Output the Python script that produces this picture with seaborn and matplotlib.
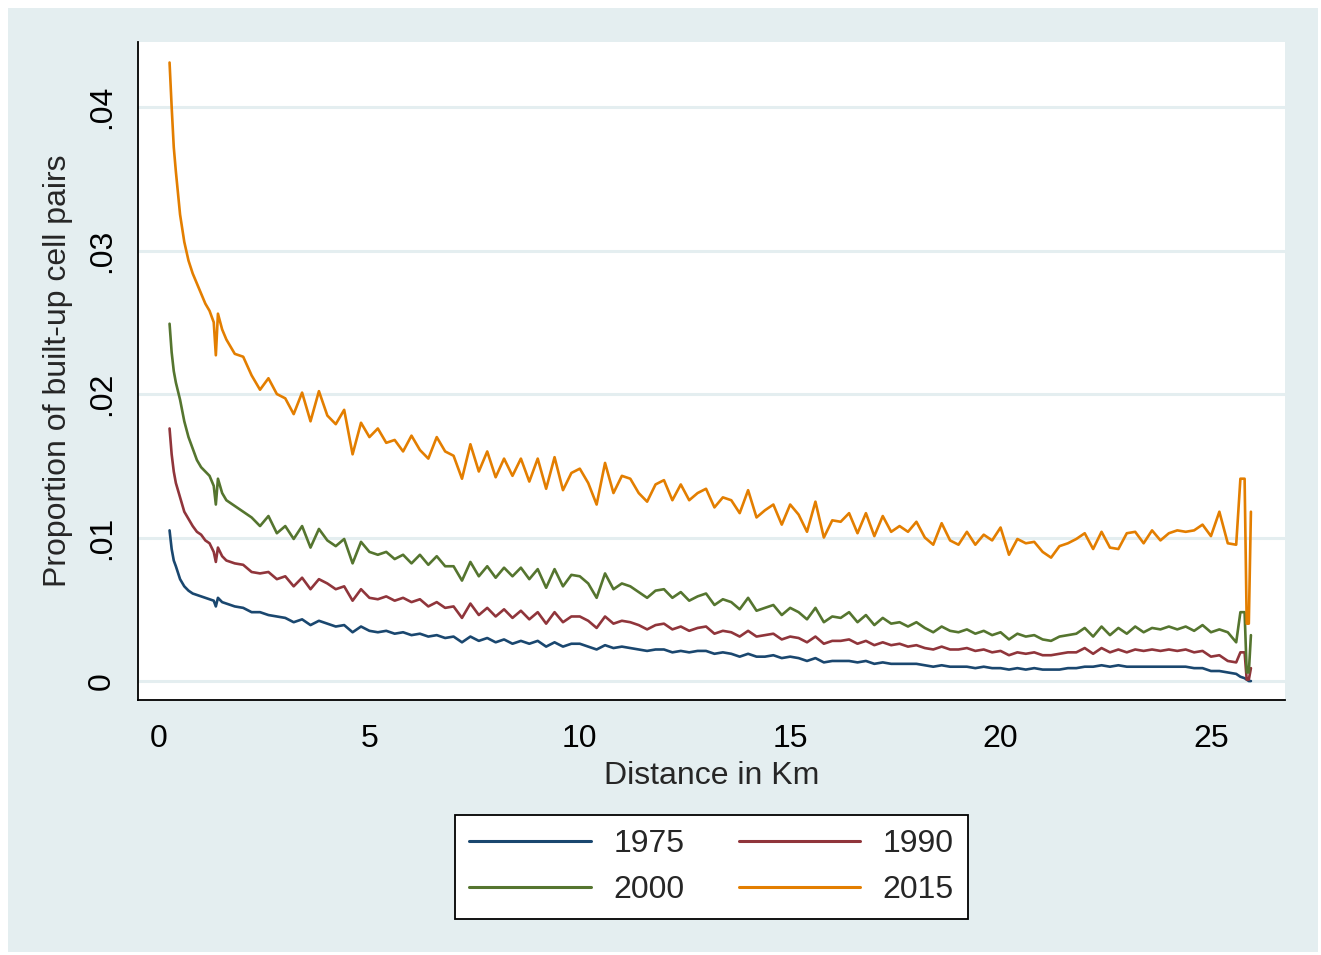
import numpy as np
import pandas as pd
import matplotlib
matplotlib.use('Agg')
import matplotlib.pyplot as plt
from matplotlib.patches import Rectangle
from matplotlib.lines import Line2D
import seaborn as sns

sns.set_style('white')
plt.rcParams['font.family'] = ['Liberation Sans', 'DejaVu Sans']

# distance grid (km)
distance_km = [0.25, 0.3, 0.35, 0.4, 0.5, 0.6, 0.7, 0.8, 0.9, 1.0, 1.1, 1.2, 1.3, 1.35, 1.4, 1.5,
               1.6, 1.8, 2.0, 2.2, 2.4, 2.6, 2.8, 3.0, 3.2, 3.4, 3.6, 3.8, 4.0, 4.2, 4.4, 4.6, 4.8,
               5.0, 5.2, 5.4, 5.6, 5.8, 6.0, 6.2, 6.4, 6.6, 6.8, 7.0, 7.2, 7.4, 7.6, 7.8,
               8.0, 8.2, 8.4, 8.6, 8.8, 9.0, 9.2, 9.4, 9.6, 9.8, 10.0, 10.2, 10.4, 10.6, 10.8,
               11.0, 11.2, 11.4, 11.6, 11.8, 12.0, 12.2, 12.4, 12.6, 12.8, 13.0, 13.2, 13.4, 13.6, 13.8,
               14.0, 14.2, 14.4, 14.6, 14.8, 15.0, 15.2, 15.4, 15.6, 15.8, 16.0, 16.2, 16.4, 16.6, 16.8,
               17.0, 17.2, 17.4, 17.6, 17.8, 18.0, 18.2, 18.4, 18.6, 18.8, 19.0, 19.2, 19.4, 19.6, 19.8,
               20.0, 20.2, 20.4, 20.6, 20.8, 21.0, 21.2, 21.4, 21.6, 21.8, 22.0, 22.2, 22.4, 22.6, 22.8,
               23.0, 23.2, 23.4, 23.6, 23.8, 24.0, 24.2, 24.4, 24.6, 24.8, 25.0, 25.2, 25.4, 25.6,
               25.7, 25.8, 25.85, 25.9, 25.95]

# proportions, in units of 1e-4
prop_1975 = [105, 92, 84, 80, 71, 66, 63, 61, 60, 59, 58, 57, 56, 52, 58, 55,
             54, 52, 51, 48, 48, 46, 45, 44, 41, 43, 39, 42, 40, 38, 39, 34, 38,
             35, 34, 35, 33, 34, 32, 33, 31, 32, 30, 31, 27, 31, 28, 30,
             27, 29, 26, 28, 26, 28, 24, 27, 24, 26, 26, 24, 22, 25, 23,
             24, 23, 22, 21, 22, 22, 20, 21, 20, 21, 21, 19, 20, 19, 17,
             19, 17, 17, 18, 16, 17, 16, 14, 16, 13, 14, 14, 14, 13, 14,
             12, 13, 12, 12, 12, 12, 11, 10, 11, 10, 10, 10, 9, 10, 9,
             9, 8, 9, 8, 9, 8, 8, 8, 9, 9, 10, 10, 11, 10, 11,
             10, 10, 10, 10, 10, 10, 10, 10, 9, 9, 7, 7, 6, 5,
             3, 2, 1, 0, 0]

prop_1990 = [176, 158, 146, 138, 128, 118, 113, 108, 104, 102, 98, 96, 90, 83, 93, 87,
             84, 82, 81, 76, 75, 76, 71, 73, 66, 72, 64, 71, 68, 64, 66, 56, 64,
             58, 57, 59, 56, 58, 55, 57, 52, 55, 51, 52, 44, 54, 46, 51,
             45, 50, 44, 49, 43, 48, 40, 48, 41, 45, 45, 42, 37, 45, 40,
             42, 41, 39, 36, 39, 40, 36, 38, 35, 37, 38, 33, 35, 34, 31,
             35, 31, 32, 33, 29, 31, 30, 27, 31, 26, 28, 28, 29, 26, 28,
             25, 27, 25, 26, 24, 25, 23, 22, 24, 22, 22, 23, 21, 22, 20,
             21, 18, 20, 19, 20, 18, 18, 19, 20, 20, 23, 19, 23, 20, 22,
             20, 22, 21, 22, 21, 22, 21, 22, 20, 21, 17, 18, 14, 13,
             20, 20, 1, 1, 9]

prop_2000 = [249, 229, 216, 208, 196, 181, 170, 162, 154, 149, 146, 143, 136, 123, 141, 131,
             126, 122, 118, 114, 108, 115, 103, 108, 99, 108, 93, 106, 98, 94, 99, 82, 97,
             90, 88, 90, 85, 88, 82, 88, 81, 87, 80, 80, 70, 83, 73, 80,
             72, 79, 73, 79, 71, 78, 65, 78, 66, 74, 73, 68, 58, 75, 64,
             68, 66, 62, 58, 63, 64, 58, 62, 56, 59, 61, 53, 57, 55, 50,
             58, 49, 51, 53, 46, 51, 48, 43, 51, 41, 45, 44, 48, 41, 46,
             39, 44, 40, 41, 38, 41, 37, 34, 38, 35, 34, 36, 33, 35, 32,
             34, 29, 33, 31, 32, 29, 28, 31, 32, 33, 37, 31, 38, 32, 37,
             33, 38, 34, 37, 36, 38, 36, 38, 35, 39, 34, 36, 34, 27,
             48, 48, 6, 6, 32]

prop_2015 = [431, 400, 372, 355, 325, 306, 293, 284, 277, 270, 263, 258, 250, 227, 256, 245,
             238, 228, 226, 213, 203, 211, 200, 197, 186, 201, 181, 202, 185, 179, 189, 158, 180,
             170, 176, 166, 168, 160, 171, 161, 155, 170, 160, 157, 141, 165, 146, 160,
             142, 155, 143, 155, 139, 155, 134, 156, 133, 145, 148, 138, 123, 152, 131,
             143, 141, 131, 125, 137, 140, 126, 137, 126, 131, 134, 121, 128, 126, 117,
             133, 114, 119, 123, 109, 123, 116, 104, 125, 100, 112, 111, 117, 103, 117,
             101, 115, 104, 108, 104, 111, 100, 95, 110, 98, 95, 104, 95, 102, 98,
             107, 88, 99, 96, 97, 90, 86, 94, 96, 99, 103, 92, 104, 93, 92,
             103, 104, 96, 105, 98, 103, 105, 104, 105, 109, 101, 118, 96, 95,
             141, 141, 40, 40, 118]

years = ['1975', '1990', '2000', '2015']
colors = ['#1A476F', '#90353B', '#55752F', '#E37E00']

series = [prop_1975, prop_1990, prop_2000, prop_2015]
frames = []
for yr, vals in zip(years, series):
    frames.append(pd.DataFrame({'distance': distance_km,
                                'prop': np.array(vals) / 1e4,
                                'year': yr}))
df = pd.concat(frames, ignore_index=True)

fig = plt.figure(figsize=(13.21, 9.55), dpi=100)
fig.patch.set_facecolor('white')
fig.patches.append(Rectangle((8 / 1321, 3 / 955), 1310 / 1321, 944 / 955,
                             transform=fig.transFigure, facecolor='#E4EEF0',
                             edgecolor='none', zorder=-10))

ax = fig.add_axes([138 / 1321, 255 / 955, 1147 / 1321, 658 / 955])
ax.set_facecolor('white')

for yv in [0, 0.01, 0.02, 0.03, 0.04]:
    ax.axhline(yv, color='#E4EEF0', lw=2.2, zorder=0)

sns.lineplot(data=df, x='distance', y='prop', hue='year', palette=colors,
             estimator=None, sort=False, lw=1.9, ax=ax, legend=False)

ax.set_xlim(-0.5, 26.76)
ax.set_ylim(-0.00132, 0.04453)
ax.set_xticks([0, 5, 10, 15, 20, 25])
ax.set_xticklabels(['0', '5', '10', '15', '20', '25'])
ax.set_yticks([0, 0.01, 0.02, 0.03, 0.04])
ax.set_yticklabels(['0', '.01', '.02', '.03', '.04'], rotation=90, va='center')

for s in ['top', 'right']:
    ax.spines[s].set_visible(False)
for s in ['left', 'bottom']:
    ax.spines[s].set_color('black')
    ax.spines[s].set_linewidth(1.3)

ax.tick_params(axis='both', direction='out', length=8, width=1.3, color='black',
               labelsize=23, labelcolor='black')
ax.tick_params(axis='y', pad=7)
ax.tick_params(axis='x', pad=9)

ax.set_xlabel('Distance in Km', fontsize=23, labelpad=5)
ax.set_ylabel('Proportion of built-up cell pairs', fontsize=23, labelpad=10)
ax.grid(False)

# legend filled row by row: 1975 1990 / 2000 2015
order = [0, 2, 1, 3]
handles = [Line2D([], [], color=colors[i], lw=2.2) for i in order]
labels = [years[i] for i in order]
leg = fig.legend(handles, labels, loc='center', bbox_to_anchor=(711.5 / 1321, 88 / 955),
                 ncol=2, fontsize=23, handlelength=3.8, handletextpad=0.7,
                 columnspacing=1.7, frameon=True, fancybox=False, borderpad=0.45,
                 labelspacing=0.5, framealpha=1)
leg.get_frame().set_edgecolor('black')
leg.get_frame().set_facecolor('white')
leg.get_frame().set_linewidth(1.3)

fig.savefig('out.png', dpi=100, facecolor=fig.get_facecolor())
